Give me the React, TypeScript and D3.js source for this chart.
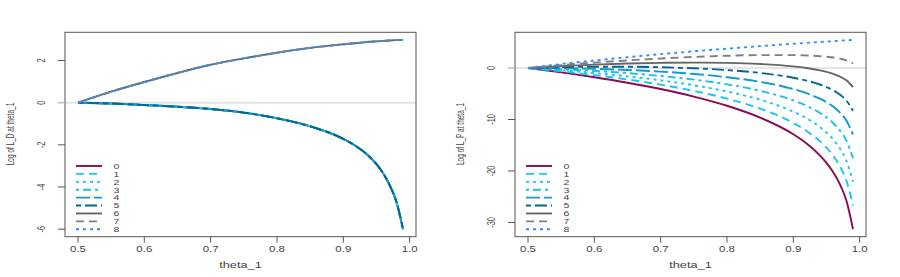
import { useEffect, useRef } from 'react';
import * as d3 from 'd3';

// theta_1 grid shared by every curve
const thetas = [0.5, 0.55, 0.6, 0.65, 0.7, 0.75, 0.8, 0.85, 0.9, 0.92, 0.94, 0.95, 0.96, 0.97, 0.98, 0.99];

// left panel: the nine series collapse onto two curves
const ldLower = [0, -0.04, -0.11, -0.19, -0.3, -0.47, -0.74, -1.12, -1.72, -2.08, -2.58, -2.92, -3.35, -3.92, -4.7, -6.0];
const ldUpper = [0, 0.52, 0.98, 1.41, 1.8, 2.1, 2.37, 2.6, 2.77, 2.83, 2.89, 2.91, 2.93, 2.95, 2.97, 2.98];
const ldSeries = [ldLower, ldLower, ldLower, ldLower, ldLower, ldLower, ldUpper, ldUpper, ldUpper];

// right panel
const lp0 = [0, -0.843, -1.785, -2.853, -4.087, -5.545, -7.33, -9.632, -12.876, -14.661, -16.962, -18.421, -20.206, -22.507, -25.751, -31.296];
const lp1 = [0, -0.642, -1.38, -2.234, -3.239, -4.447, -5.944, -7.897, -10.678, -12.218, -14.211, -15.476, -17.028, -19.031, -21.859, -26.701];
const lp2 = [0, -0.442, -0.974, -1.615, -2.392, -3.348, -4.558, -6.163, -8.481, -9.776, -11.459, -12.532, -13.85, -15.555, -17.967, -22.106];
const lp3 = [0, -0.241, -0.569, -0.996, -1.545, -2.249, -3.171, -4.428, -6.284, -7.334, -8.708, -9.587, -10.672, -12.079, -14.076, -17.511];
const lp4 = [0, -0.04, -0.163, -0.377, -0.697, -1.151, -1.785, -2.693, -4.087, -4.891, -5.956, -6.643, -7.494, -8.603, -10.184, -12.916];
const lp5 = [0, 0.161, 0.242, 0.242, 0.15, -0.052, -0.399, -0.959, -1.889, -2.449, -3.204, -3.699, -4.316, -5.127, -6.292, -8.321];
const lp6 = [0, 0.361, 0.648, 0.861, 0.997, 1.047, 0.987, 0.776, 0.308, -0.007, -0.453, -0.754, -1.137, -1.651, -2.4, -3.725];
const lp7 = [0, 0.562, 1.053, 1.48, 1.844, 2.145, 2.374, 2.51, 2.505, 2.436, 2.299, 2.19, 2.041, 1.825, 1.492, 0.87];
const lp8 = [0, 0.762, 1.459, 2.099, 2.692, 3.244, 3.76, 4.245, 4.702, 4.878, 5.05, 5.135, 5.219, 5.302, 5.384, 5.465];
const lpSeries = [lp0, lp1, lp2, lp3, lp4, lp5, lp6, lp7, lp8];

const seriesNames = ['0', '1', '2', '3', '4', '5', '6', '7', '8'];
const colors = ['#8B0A50', '#1EC3F5', '#1EC3F5', '#1EBDF0', '#0E9CCB', '#00688B', '#666666', '#7f7f7f', '#2B8FFF'];
const dashes = ['', '8,5', '3,4', '3,4,8,4', '14,4', '5,4,12,4', '', '8,5', '3,4'];

const xTicks = [0.5, 0.6, 0.7, 0.8, 0.9, 1.0];
const ldTicks = [2, 0, -2, -4, -6];
const lpTicks = [0, -10, -20, -30];

const FONT = '"Liberation Sans", Arial, Helvetica, sans-serif';
const AX = '#555';
const TXT = '#444';

function drawPanel(
  g: d3.Selection<SVGGElement, unknown, null, undefined>,
  left: number,
  series: number[][],
  yTicks: number[],
  yTitle: string,
) {
  const top = 32.3;
  const bottom = 236.7;
  const right = left + 351;
  const ext = d3.extent(series.flat()) as [number, number];
  const py = (ext[1] - ext[0]) * 0.04;
  const px = (0.99 - 0.5) * 0.04;
  const x = d3.scaleLinear().domain([0.5 - px, 0.99 + px]).range([left, right]);
  const y = d3.scaleLinear().domain([ext[0] - py, ext[1] + py]).range([bottom, top]);

  // zero reference line
  g.append('line')
    .attr('x1', left - 7).attr('x2', right)
    .attr('y1', y(0)).attr('y2', y(0))
    .attr('stroke', '#e4e4e4').attr('stroke-width', 2);

  const line = d3.line<number>()
    .x((_d, i) => x(thetas[i]))
    .y((d) => y(d))
    .curve(d3.curveMonotoneX);

  series.forEach((s, i) => {
    g.append('path')
      .attr('d', line(s) ?? '')
      .attr('fill', 'none')
      .attr('stroke', colors[i])
      .attr('stroke-width', 1.9)
      .attr('stroke-dasharray', dashes[i] || null);
  });

  g.append('rect')
    .attr('x', left).attr('y', top)
    .attr('width', right - left).attr('height', bottom - top)
    .attr('fill', 'none').attr('stroke', AX).attr('stroke-width', 1);

  // x axis
  xTicks.forEach((t) => {
    g.append('line')
      .attr('x1', x(t)).attr('x2', x(t))
      .attr('y1', bottom).attr('y2', bottom + 6)
      .attr('stroke', AX);
    g.append('text')
      .attr('transform', `translate(${x(t)},252) scale(1.4,1)`)
      .attr('text-anchor', 'middle')
      .attr('font-size', 8.2).attr('font-family', FONT).attr('fill', TXT)
      .text(t.toFixed(1));
  });
  g.append('text')
    .attr('transform', `translate(${(left + right) / 2},268) scale(1.45,1)`)
    .attr('text-anchor', 'middle')
    .attr('font-size', 8.8).attr('font-family', FONT).attr('fill', TXT)
    .text('theta_1');

  // y axis
  yTicks.forEach((t) => {
    g.append('line')
      .attr('x1', left - 7).attr('x2', left)
      .attr('y1', y(t)).attr('y2', y(t))
      .attr('stroke', t === 0 ? '#bbb' : AX);
    g.append('text')
      .attr('transform', `translate(${left - 20},${y(t)}) rotate(-90) scale(0.7,1)`)
      .attr('text-anchor', 'middle')
      .attr('font-size', 10.5).attr('font-family', FONT).attr('fill', TXT)
      .text(String(t));
  });
  g.append('text')
    .attr('transform', `translate(${left - 51},134) rotate(-90) scale(0.62,1)`)
    .attr('text-anchor', 'middle')
    .attr('font-size', 10.5).attr('font-family', FONT).attr('fill', TXT)
    .text(yTitle);

  // legend
  const ly = d3.scaleLinear().domain([0, 8]).range([166, 229.3]);
  seriesNames.forEach((name, i) => {
    g.append('line')
      .attr('x1', left + 11).attr('x2', left + 37)
      .attr('y1', ly(i)).attr('y2', ly(i))
      .attr('stroke', colors[i]).attr('stroke-width', 1.9)
      .attr('stroke-dasharray', dashes[i] || null);
    g.append('text')
      .attr('transform', `translate(${left + 48.5},${ly(i) + 2.8}) scale(1.35,1)`)
      .attr('font-size', 7.8).attr('font-family', FONT).attr('fill', TXT)
      .text(name);
  });
}

export default function App() {
  const svgRef = useRef<SVGSVGElement>(null);

  useEffect(() => {
    const svg = d3.select(svgRef.current);
    svg.selectAll('*').remove();
    drawPanel(svg.append('g'), 65, ldSeries, ldTicks, 'Log of L_D at theta_1');
    drawPanel(svg.append('g'), 515, lpSeries, lpTicks, 'Log of L_P at theta_1');
  }, []);

  return (
    <svg
      ref={svgRef}
      width={900}
      height={277}
      viewBox="0 0 900 277"
      style={{ position: 'absolute', left: 0, top: 0, background: '#fff' }}
    />
  );
}
